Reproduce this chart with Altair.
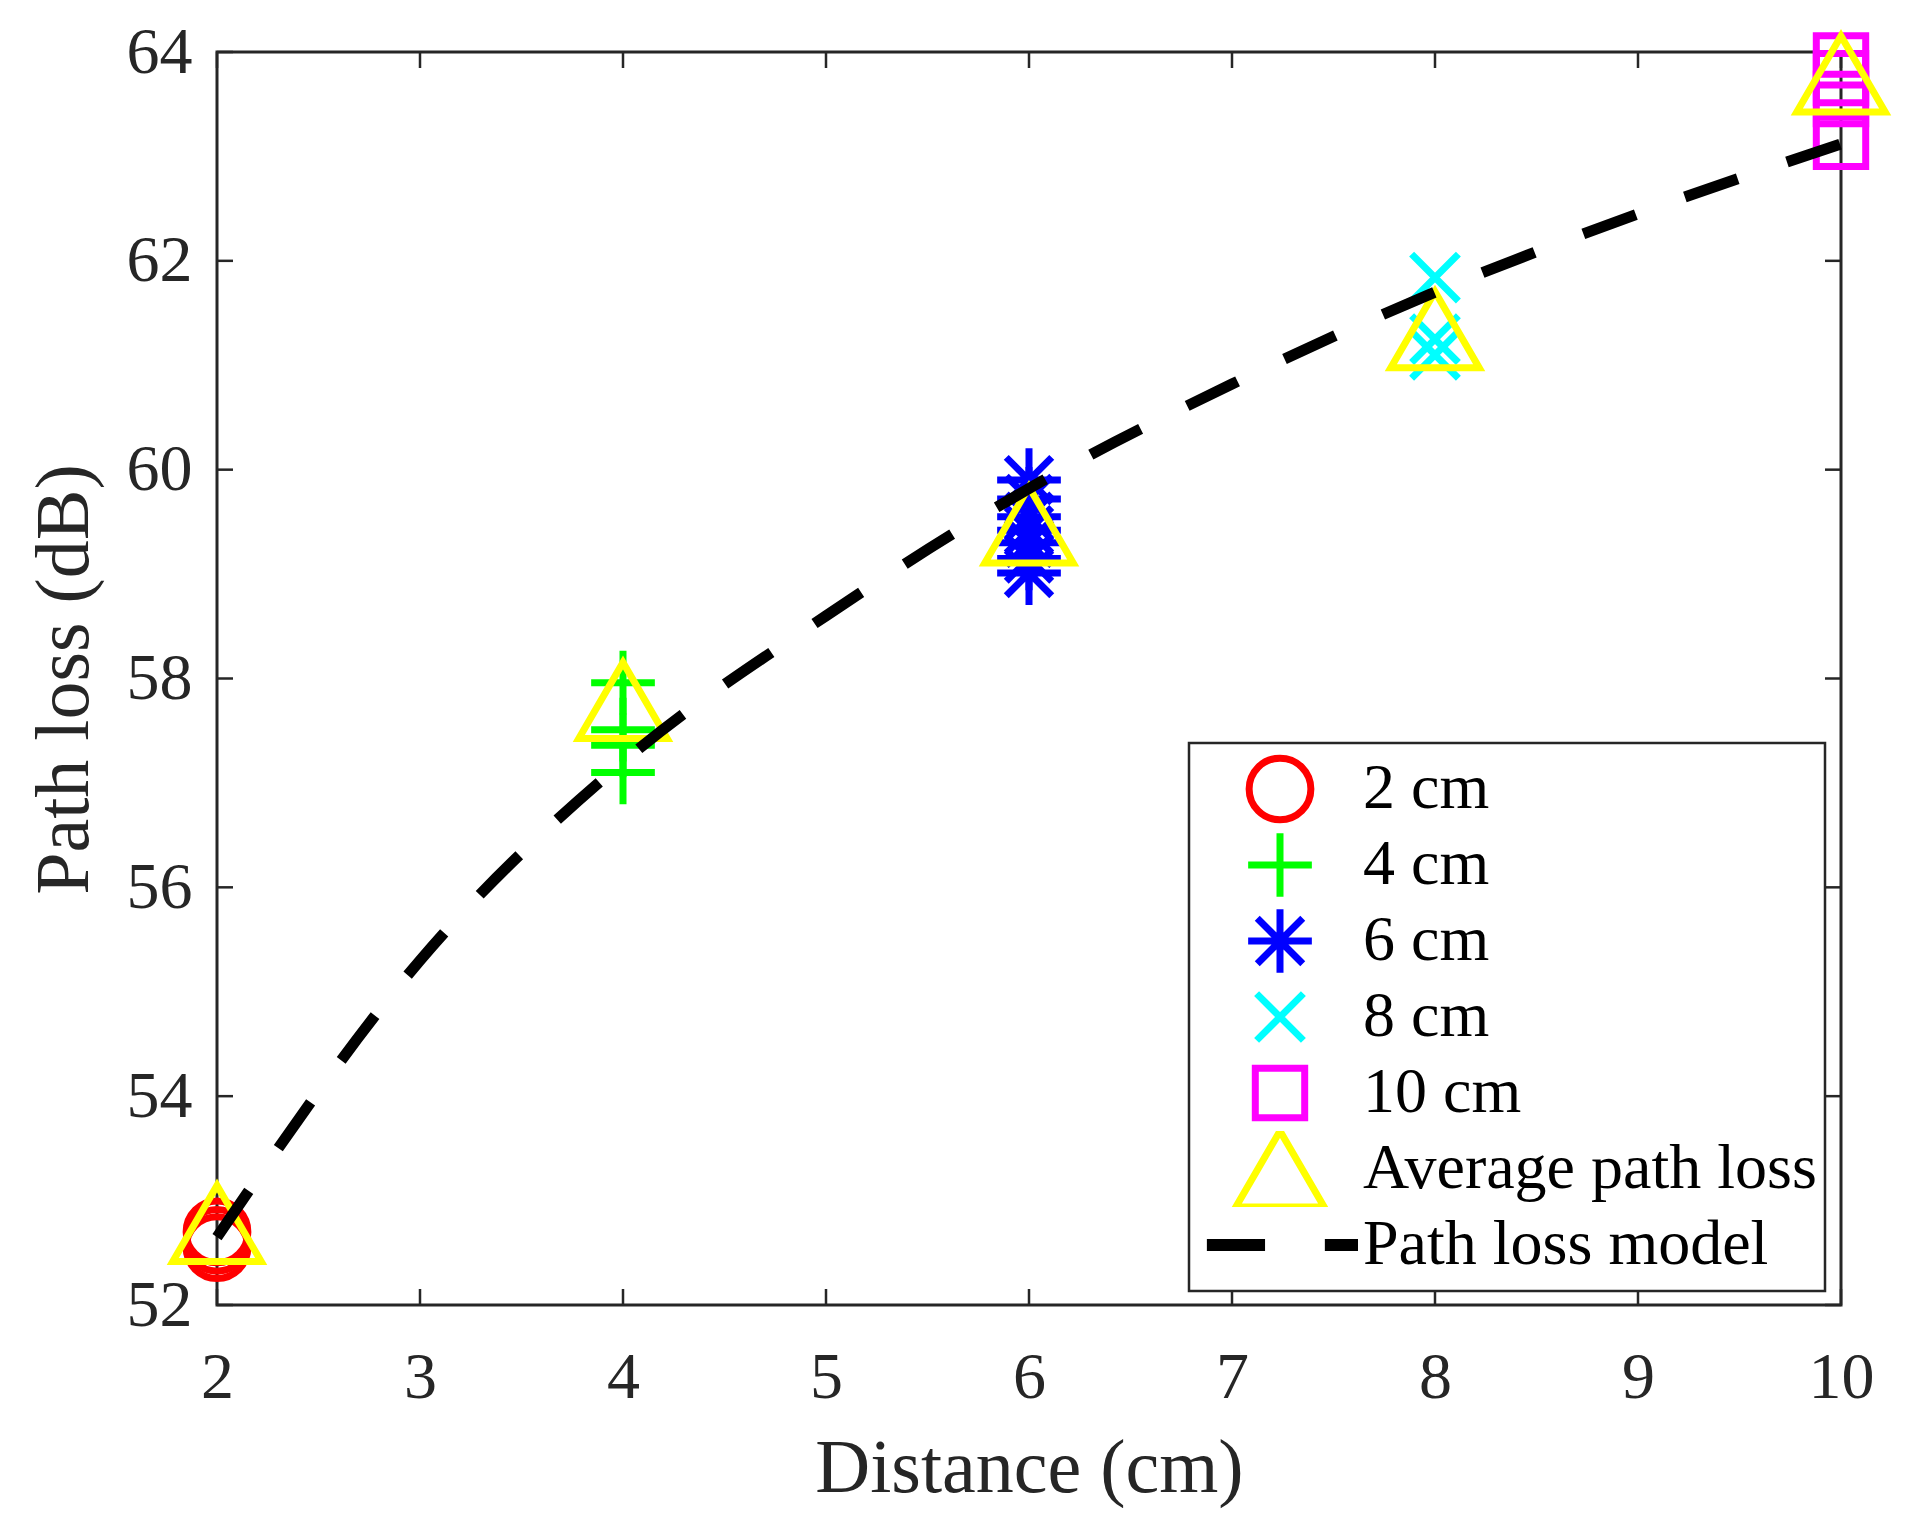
import altair as alt
import pandas as pd

# ---- data ----
series_names = ["2 cm", "4 cm", "6 cm", "8 cm", "10 cm", "Average path loss", "Path loss model"]

d2_vals = [52.55, 52.62, 52.70]
d4_vals = [57.96, 57.51, 57.36, 57.10]
d6_vals = [59.90, 59.72, 59.55, 59.42, 59.30, 59.15, 59.01]
d8_vals = [61.84, 61.25, 61.10]
d10_vals = [63.92, 63.75, 63.55, 63.14]

avg_x = [2, 4, 6, 8, 10]
avg_vals = [52.78, 57.79, 59.47, 61.34, 63.79]

model_x = [2, 3, 4, 5, 6, 7, 8, 9, 10]
model_vals = [52.65, 55.30, 57.20, 58.60, 59.82, 60.82, 61.70, 62.45, 63.12]

x_ticks = [2, 3, 4, 5, 6, 7, 8, 9, 10]
y_ticks = [52, 54, 56, 58, 60, 62, 64]

colors = ["#FF0000", "#00FF00", "#0000FF", "#00FFFF", "#FF00FF", "#FFFF00", "#000000"]
shapes = [
    "M0.95,0A0.95,0.95,0,1,1,-0.95,0A0.95,0.95,0,1,1,0.95,0Z",
    "M-0.98,0H0.98M0,-0.98V0.98",
    "M-0.98,0H0.98M0,-0.98V0.98M-0.7,-0.7L0.7,0.7M-0.7,0.7L0.7,-0.7",
    "M-0.72,-0.72L0.72,0.72M-0.72,0.72L0.72,-0.72",
    "M-0.76,-0.76H0.76V0.76H-0.76Z",
    "M0,-1.17L1.36,1.17L-1.36,1.17Z",
    "M-2.25,-0.08H-0.46M-2.25,0.08H-0.46M1.38,-0.08H2.4M1.38,0.08H2.4",
]

# ---- tables ----
rows = []
for dist, vals, name in [(2, d2_vals, "2 cm"), (4, d4_vals, "4 cm"), (6, d6_vals, "6 cm"),
                         (8, d8_vals, "8 cm"), (10, d10_vals, "10 cm")]:
    for v in vals:
        rows.append({"x": dist, "y": v, "series": name})
for xv, v in zip(avg_x, avg_vals):
    rows.append({"x": xv, "y": v, "series": "Average path loss"})
pts = pd.DataFrame(rows)
pts["order"] = range(len(pts))

model = pd.DataFrame({"x": model_x, "y": model_vals})
xt = pd.DataFrame({"t": x_ticks})
yt = pd.DataFrame({"t": y_ticks})

W, H = 1624, 1253
FONT = "Liberation Serif"
AXC = "#262626"

xscale = alt.Scale(domain=[2, 10], nice=False, zero=False)
yscale = alt.Scale(domain=[52, 64], nice=False, zero=False)

legend = alt.Legend(
    title=None, orient="none", legendX=972, legendY=691,
    padding=8, symbolOffset=47, labelOffset=47, rowPadding=0, clipHeight=76,
    labelFont=FONT, labelFontSize=64, labelColor="black", labelLimit=1000,
    labelBaseline="middle",
    strokeColor=AXC, fillColor="white",
    symbolSize=4225, symbolStrokeWidth=7,
)

xaxis = alt.Axis(values=x_ticks, grid=False, domain=False, ticks=False, format="d",
                 labelFont=FONT, labelFontSize=66, labelColor=AXC, labelFlush=False,
                 labelBaseline="alphabetic", labelPadding=92,
                 title="Distance (cm)", titleFont=FONT, titleFontSize=76,
                 titleFontWeight="normal", titleColor=AXC,
                 titleBaseline="alphabetic", titleX=812, titleY=186)
yaxis = alt.Axis(values=y_ticks, grid=False, domain=False, ticks=False, format="d",
                 labelFont=FONT, labelFontSize=66, labelColor=AXC, labelFlush=False,
                 labelAlign="right", labelBaseline="middle", labelPadding=25,
                 title="Path loss (dB)", titleFont=FONT, titleFontSize=76,
                 titleFontWeight="normal", titleColor=AXC, titleAngle=270,
                 titleBaseline="alphabetic", titleX=-130, titleY=627)

points = alt.Chart(pts).mark_point(filled=False, size=4225, strokeWidth=7, opacity=1).encode(
    x=alt.X("x:Q", scale=xscale, axis=xaxis),
    y=alt.Y("y:Q", scale=yscale, axis=yaxis),
    color=alt.Color("series:N", scale=alt.Scale(domain=series_names, range=colors), legend=legend),
    shape=alt.Shape("series:N", scale=alt.Scale(domain=series_names, range=shapes), legend=legend),
    order="order:Q",
)

line = alt.Chart(model).mark_line(color="black", strokeWidth=11, strokeDash=[56, 52],
                                  interpolate="monotone", strokeCap="butt").encode(
    x=alt.X("x:Q", scale=xscale),
    y=alt.Y("y:Q", scale=yscale),
)

TK = 16
tick_style = dict(color=AXC, strokeWidth=2.5)
xb = alt.Chart(xt).mark_rule(**tick_style).encode(x=alt.X("t:Q", scale=xscale), y=alt.value(H), y2=alt.value(H - TK))
xtop = alt.Chart(xt).mark_rule(**tick_style).encode(x=alt.X("t:Q", scale=xscale), y=alt.value(0), y2=alt.value(TK))
yl = alt.Chart(yt).mark_rule(**tick_style).encode(y=alt.Y("t:Q", scale=yscale), x=alt.value(0), x2=alt.value(TK))
yr = alt.Chart(yt).mark_rule(**tick_style).encode(y=alt.Y("t:Q", scale=yscale), x=alt.value(W - TK), x2=alt.value(W))

chart = alt.layer(xb, xtop, yl, yr, points, line).properties(
    width=W, height=H,
    autosize=alt.AutoSizeParams(type="none"),
    padding={"left": 209, "top": 44, "right": 60, "bottom": 220},
    background="white",
).configure_view(stroke=AXC, strokeWidth=3).configure_legend(strokeWidth=2.5)

chart.save("out.html", embed_options={"renderer": "svg", "actions": False})
